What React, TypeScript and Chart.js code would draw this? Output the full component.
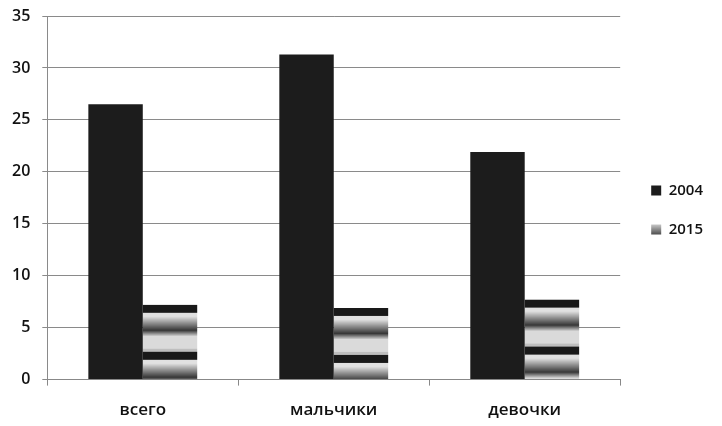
import React, { useEffect, useRef } from "react";
import { Chart, registerables } from "chart.js";

Chart.register(...registerables);

const categories = ["всего", "мальчики", "девочки"];
const seriesLabels = ["2004", "2015"];
const values2004 = [26.5, 31.3, 21.9];
const values2015 = [7.2, 6.9, 7.7];
const yMin = 0;
const yMax = 35;
const yStep = 5;

const FONT = "'Open Sans', 'Noto Sans', sans-serif";

function stripeLevel(y: number): number {
  if (y < 8) return 25;
  if (y < 12) return 225;
  if (y < 25) return Math.round(215 - ((y - 12) / 13) * 160);
  if (y < 31) return Math.round(55 + ((y - 25) / 6) * 160);
  if (y < 44) return 218;
  return 190;
}

function makeBarPattern(ctx: CanvasRenderingContext2D, offsetY: number) {
  const c = document.createElement("canvas");
  c.width = 4;
  c.height = 47;
  const g = c.getContext("2d")!;
  for (let y = 0; y < 47; y++) {
    const l = stripeLevel(y);
    g.fillStyle = `rgb(${l},${l},${l})`;
    g.fillRect(0, y, 4, 1);
  }
  const p = ctx.createPattern(c, "repeat")!;
  p.setTransform(new DOMMatrix().translate(0, offsetY));
  return p;
}

function makeLegendPattern(ctx: CanvasRenderingContext2D) {
  const c = document.createElement("canvas");
  c.width = 4;
  c.height = 3;
  const g = c.getContext("2d")!;
  g.fillStyle = "#d0d0d0";
  g.fillRect(0, 0, 4, 3);
  g.fillStyle = "#222";
  g.fillRect(0, 0, 4, 1);
  return ctx.createPattern(c, "repeat")!;
}

const legendShift = {
  id: "legendShift",
  afterLayout(chart: any) {
    const lg = chart.legend;
    if (lg) {
      lg.left += 7;
      lg.right += 7;
      lg.top -= 7;
      lg.bottom -= 7;
    }
  },
};

export default function App() {
  const ref = useRef<HTMLCanvasElement | null>(null);

  useEffect(() => {
    if (!ref.current) return;
    const chart = new Chart(ref.current, {
      type: "bar",
      data: {
        labels: categories,
        datasets: [
          {
            label: seriesLabels[0],
            data: values2004,
            backgroundColor: "#1c1c1c",
            borderWidth: 0,
          },
          {
            label: seriesLabels[1],
            data: values2015,
            backgroundColor: (c: any) => {
              const ctx = c.chart.ctx as CanvasRenderingContext2D;
              if (c.type !== "data" || c.dataIndex === undefined) return makeLegendPattern(ctx);
              const ys = c.chart.scales?.y;
              const top = ys ? ys.getPixelForValue(c.raw) : 0;
              return makeBarPattern(ctx, top);
            },
            borderWidth: 0,
          },
        ],
      },
      plugins: [legendShift],
      options: {
        animation: false,
        responsive: true,
        maintainAspectRatio: false,
        layout: { padding: { top: 0, left: 0, right: 16, bottom: -8 } },
        datasets: {
          bar: { barPercentage: 1, categoryPercentage: 0.57 },
        },
        scales: {
          x: {
            grid: {
              offset: true,
              drawOnChartArea: false,
              drawTicks: true,
              tickLength: 6,
              color: "#888",
            },
            border: { color: "#888", width: 1 },
            ticks: {
              color: "#111",
              padding: 14,
              font: { family: FONT, size: 17, weight: "600" },
            },
          },
          y: {
            min: yMin,
            max: yMax,
            afterFit: (s: any) => {
              s.paddingTop = 16;
            },
            grid: { color: "#8a8a8a", lineWidth: 1, tickLength: 5 },
            border: { color: "#8a8a8a", width: 1 },
            ticks: {
              stepSize: yStep,
              color: "#111",
              padding: 12,
              font: { family: FONT, size: 16, weight: "600" },
            },
          },
        },
        plugins: {
          tooltip: { enabled: false },
          legend: {
            position: "right",
            labels: {
              boxWidth: 10,
              boxHeight: 10,
              padding: 24,
              color: "#111",
              font: { family: FONT, size: 15, weight: "600" },
            },
          },
        },
      },
    });
    return () => chart.destroy();
  }, []);

  return (
    <div style={{ position: "fixed", left: 0, top: 0, width: 722, height: 426, background: "#fff" }}>
      <canvas ref={ref} />
    </div>
  );
}
